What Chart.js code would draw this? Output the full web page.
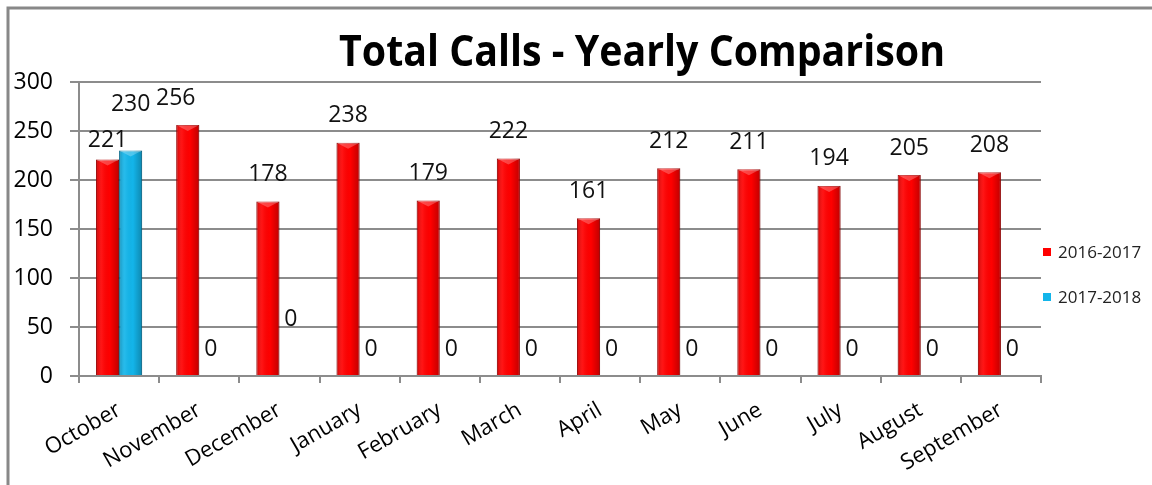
<!DOCTYPE html>
<html>
<head>
<meta charset="utf-8">
<script src="https://cdn.jsdelivr.net/npm/chart.js@4/dist/chart.umd.min.js"></script>
<style>
  html, body { margin: 0; padding: 0; background: #fff; }
  #wrap { width: 1152px; height: 485px; position: relative; }
</style>
</head>
<body>
<div id="wrap"><canvas id="chart" width="1152" height="485"></canvas></div>
<script>
const categories = ["October", "November", "December", "January", "February", "March",
  "April", "May", "June", "July", "August", "September"];
const calls1617 = [221, 256, 178, 238, 179, 222, 161, 212, 211, 194, 205, 208];
const calls1718 = [230, 0, 0, 0, 0, 0, 0, 0, 0, 0, 0, 0];
const seriesNames = ["2016-2017", "2017-2018"];
const yTicks = [0, 50, 100, 150, 200, 250, 300];
const chartTitle = "Total Calls - Yearly Comparison";

const FONT = "'Open Sans', 'DejaVu Sans', sans-serif";
const GRID = "#8c8c8c";

// a few labels were dragged by hand in the original sheet
const labelNudge = { "0-0": [0, -8], "1-0": [0, 19], "0-1": [-12, 0], "1-2": [0, 30] };

// frame, title and background
const framePlugin = {
  id: "frame",
  beforeDraw(chart) {
    const ctx = chart.ctx;
    ctx.save();
    ctx.fillStyle = "#fff";
    ctx.fillRect(0, 0, chart.width, chart.height);
    ctx.strokeStyle = "#888";
    ctx.lineWidth = 3;
    ctx.beginPath();
    ctx.moveTo(8, chart.height);
    ctx.lineTo(8, 8);
    ctx.lineTo(chart.width, 8);
    ctx.stroke();
    ctx.fillStyle = "#000";
    ctx.font = "bold 43px " + FONT;
    ctx.textAlign = "center";
    ctx.textBaseline = "alphabetic";
    ctx.fillText(chartTitle, 642, 66, 606);
    ctx.restore();
  }
};

// shading on bars + value labels
const labelPlugin = {
  id: "barLabels",
  afterDatasetsDraw(chart) {
    const ctx = chart.ctx;
    ctx.save();
    chart.data.datasets.forEach((ds, di) => {
      const meta = chart.getDatasetMeta(di);
      meta.data.forEach((el, i) => {
        const w = el.width;
        const left = el.x - w / 2;
        const h = el.base - el.y;
        if (h > 1) {
          const g = ctx.createLinearGradient(left, 0, left + w, 0);
          g.addColorStop(0, "rgba(0,0,0,0.22)");
          g.addColorStop(0.25, "rgba(255,255,255,0.08)");
          g.addColorStop(0.6, "rgba(0,0,0,0)");
          g.addColorStop(1, "rgba(0,0,0,0.25)");
          ctx.fillStyle = g;
          ctx.fillRect(left, el.y, w, h);
          // top bevel
          ctx.fillStyle = "rgba(255,255,255,0.25)";
          ctx.beginPath();
          ctx.moveTo(left, el.y);
          ctx.lineTo(left + w, el.y);
          ctx.lineTo(el.x, el.y + 6);
          ctx.closePath();
          ctx.fill();
        }
        const nudge = labelNudge[di + "-" + i] || [0, 0];
        ctx.fillStyle = "#111";
        ctx.font = "23px " + FONT;
        ctx.textAlign = "center";
        ctx.textBaseline = "middle";
        ctx.fillText(String(ds.data[i]), el.x + nudge[0], el.y - 27 - nudge[1]);
      });
    });
    ctx.restore();
  }
};

// legend on the right
const legendPlugin = {
  id: "sideLegend",
  afterDraw(chart) {
    const ctx = chart.ctx;
    ctx.save();
    ctx.font = "17px " + FONT;
    ctx.textBaseline = "middle";
    ctx.textAlign = "left";
    chart.data.datasets.forEach((ds, i) => {
      const y = 252 + i * 45;
      ctx.fillStyle = ds.backgroundColor;
      ctx.fillRect(1043, y - 4, 8, 8);
      ctx.fillStyle = "#222";
      ctx.fillText(ds.label, 1058, y + 1);
    });
    ctx.restore();
  }
};

new Chart(document.getElementById("chart"), {
  type: "bar",
  data: {
    labels: categories,
    datasets: [
      {
        label: seriesNames[0],
        data: calls1617,
        backgroundColor: "#ff0000",
        borderColor: "#c00000",
        borderWidth: 1,
      },
      {
        label: seriesNames[1],
        data: calls1718,
        backgroundColor: "#13b5ea",
        borderColor: "#0a86b0",
        borderWidth: 1,
      },
    ],
  },
  options: {
    responsive: false,
    animation: false,
    layout: { padding: { left: 0, top: 82, right: 111, bottom: 0 } },
    datasets: {
      bar: { categoryPercentage: 0.575, barPercentage: 1 },
    },
    plugins: {
      legend: { display: false },
      title: { display: false },
      tooltip: { enabled: false },
    },
    scales: {
      x: {
        afterFit(scale) { scale.height = 109; },
        grid: {
          offset: true,
          drawOnChartArea: false,
          drawTicks: true,
          tickLength: 7,
          color: GRID,
          lineWidth: 2,
        },
        border: { display: true, color: GRID, width: 2 },
        ticks: {
          color: "#000",
          font: { family: FONT, size: 22 },
          maxRotation: 30,
          minRotation: 30,
          padding: 14,
          autoSkip: false,
        },
      },
      y: {
        min: 0,
        max: 300,
        afterFit(scale) { scale.width = 79; },
        afterBuildTicks(scale) {
          scale.ticks = yTicks.map((v) => ({ value: v }));
        },
        grid: {
          color: GRID,
          lineWidth: 2,
          tickLength: 9,
        },
        border: { display: true, color: GRID, width: 2 },
        ticks: {
          color: "#000",
          font: { family: FONT, size: 23 },
          padding: 17,
        },
      },
    },
  },
  plugins: [framePlugin, labelPlugin, legendPlugin],
});
</script>
</body>
</html>
